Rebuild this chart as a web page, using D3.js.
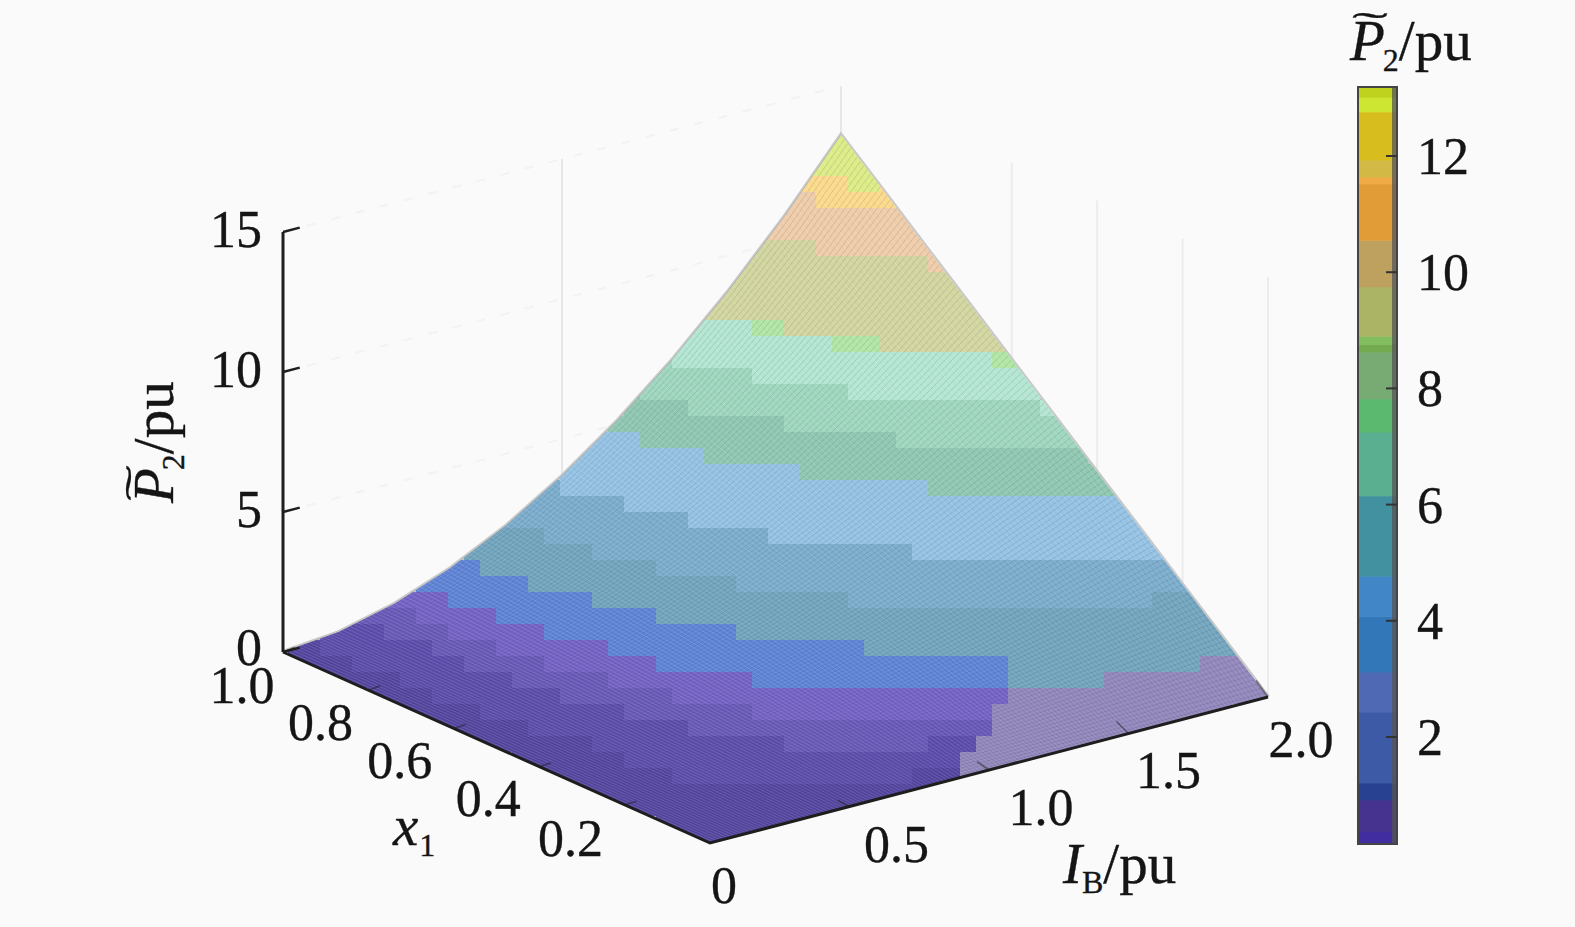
<!DOCTYPE html>
<html><head><meta charset="utf-8">
<script src="https://cdnjs.cloudflare.com/ajax/libs/d3/7.8.5/d3.min.js"></script>
<style>
html,body{margin:0;padding:0;background:#fafafa}
svg{display:block}
text{font-family:"Liberation Serif",serif;fill:#151515;stroke:#151515;stroke-width:.35}
</style></head><body>
<svg id="c" width="1575" height="927"></svg>
<script>
// ---- data ----
const ibValues = [0,0.2,0.4,0.6,0.8,1.0,1.2,1.4,1.6,1.8,2.0];
const x1Values = [0,0.1,0.2,0.3,0.4,0.5,0.6,0.7,0.8,0.9,1.0];
const p2Rows = [
 [0,0,0,0,0,0,0,0,0,0,0],
 [0,.02,.07,.14,.24,.37,.52,.69,.88,1.09,1.33],
 [0,.04,.14,.29,.49,.74,1.03,1.37,1.75,2.18,2.65],
 [0,.06,.20,.43,.73,1.10,1.55,2.06,2.63,3.27,3.98],
 [0,.07,.27,.57,.97,1.47,2.06,2.74,3.51,4.36,5.30],
 [0,.09,.34,.72,1.22,1.84,2.58,3.43,4.39,5.45,6.63],
 [0,.11,.41,.86,1.46,2.21,3.09,4.11,5.26,6.54,7.95],
 [0,.13,.47,1.00,1.70,2.58,3.61,4.80,6.14,7.63,9.28],
 [0,.15,.54,1.14,1.94,2.94,4.12,5.48,7.02,8.72,10.6],
 [0,.17,.61,1.29,2.19,3.31,4.64,6.17,7.89,9.81,11.93],
 [0,.19,.68,1.43,2.43,3.68,5.15,6.85,8.77,10.9,13.25]
];
const ibTicks = [0,0.5,1.0,1.5,2.0];
const ibTickLabels = ["0","0.5","1.0","1.5","2.0"];
const x1Ticks = [0.2,0.4,0.6,0.8,1.0];
const x1TickLabels = ["0.2","0.4","0.6","0.8","1.0"];
const zTicks = [0,5,10,15];
const cbTicks = [2,4,6,8,10,12];
// colour bar bands: lower bound of each band and its colour
const cbBounds = [0.16,0.37,0.92,1.21,2.43,3.12,4.08,4.77,6.15,7.25,7.82,8.63,8.76,8.9,9.75,10.55,11.52,11.64,11.93,12.76,13.01];
const cbColors = ["#412da0","#46328f","#284191","#3c5aa5","#5069b4","#3278b9","#4187c8","#4191a0","#5aaf91","#5ab96e","#78aa73","#73aa50","#82be5f","#aab464","#bea05f","#e19b37","#f0aa46","#d2b946","#d7be1e","#cde632","#bed21e"];
// surface bands (value lower bound, rendered colour of the meshed surface)
const surfBounds = [0.08,0.35,0.6,0.95,1.6,2.4,3.4,4.8,5.8,6.8,7.9,8.05,10.2,11.4,12.0];
const surfColors = ["#5c4aac","#6958b9","#7662c6","#6084d7","#73a5be","#7dadcd","#96c3e4","#91c8b2","#a0d7be","#b4e6d2","#b2e6a5","#d4d6a0","#f0cdaa","#fcda8c","#deec87"];
const baseSurfColor = "#5442a0";
// at the lower right of the surface the same bands show other tints
const rightTintPurple = "#9387bc";
const rightTintBlue = "#73a5be";

// ---- layout ----
const W=1575,H=927;
const svg=d3.select("#c");
svg.append("rect").attr("width",W).attr("height",H).attr("fill","#fafafa");
// oblique projection: each data axis contributes a screen offset
const ibSx=d3.scaleLinear([0,2],[0,558]), ibSy=d3.scaleLinear([0,2],[0,-146]);
const x1Sx=d3.scaleLinear([0,1],[0,-427]), x1Sy=d3.scaleLinear([0,1],[0,-191]);
const zSy=d3.scaleLinear([0,15],[0,-420]);
const O=[710,843];
const proj=(ib,x,z)=>[O[0]+ibSx(ib)+x1Sx(x), O[1]+ibSy(ib)+x1Sy(x)+zSy(z)];
const nI=ibValues.length,nX=x1Values.length;
const ibIdx=d3.scaleLinear().domain(d3.range(nI)).range(ibValues);
const xIdx=d3.scaleLinear().domain(d3.range(nX)).range(x1Values);
function pAt(ci,cx){
  const i0=Math.min(Math.floor(ci),nI-2),j0=Math.min(Math.floor(cx),nX-2),u=ci-i0,v=cx-j0;
  return (1-v)*((1-u)*p2Rows[j0][i0]+u*p2Rows[j0][i0+1])+v*((1-u)*p2Rows[j0+1][i0]+u*p2Rows[j0+1][i0+1]);
}
const pIdx=(ci,cx)=>proj(ibIdx(ci),xIdx(cx),pAt(ci,cx));
const clamp=(a,b,c)=>Math.max(b,Math.min(c,a));
const line=d3.line();

// ---- back wall grid ----
const wall=svg.append("g").attr("fill","none");
const zTop=15;
[1.0,2.0].forEach(ib=>{
  wall.append("path").attr("d",line([proj(ib,1,0),proj(ib,1,zTop)])).attr("stroke","#e6e6e6").attr("stroke-width",2);
});
[0,0.2,0.4,0.6].forEach(x=>{
  wall.append("path").attr("d",line([proj(2,x,0),proj(2,x,zTop)])).attr("stroke","#ececec").attr("stroke-width",2);
});
[5,10,15].forEach(z=>{
  wall.append("path").attr("d",line([proj(0,1,z),proj(2,1,z)])).attr("stroke","#f2f2f2").attr("stroke-width",2).attr("stroke-dasharray","9 16");
});

// ---- surface ----
const boundary=[];
d3.range(nI).forEach(i=>boundary.push(pIdx(i,0)));
d3.range(nX).forEach(j=>boundary.push(pIdx(nI-1,j)));
d3.range(nI-1,-1,-1).forEach(i=>boundary.push(pIdx(i,nX-1)));
d3.range(nX-1,-1,-1).forEach(j=>boundary.push(pIdx(0,j)));
// pale edge along the two upper sides
const upper=[];
d3.range(nI).forEach(i=>upper.push(pIdx(i,nX-1)));
d3.range(nX-1,-1,-1).forEach(j=>upper.push(pIdx(nI-1,j)));
svg.append("path").attr("d",line(upper)).attr("fill","none").attr("stroke","#c8c8c8").attr("stroke-width",4);
svg.append("clipPath").attr("id","sclip").append("path").attr("d",line(boundary)+"Z");
const surf=svg.append("g").attr("clip-path","url(#sclip)");

// band regions projected to the screen, then painted in coarse blocks like the picture
const contours=d3.contours().size([nI,nX]).thresholds(surfBounds)(p2Rows.flat());
const bandRings=contours.map(c=>c.coordinates.map(poly=>poly[0].map(p=>pIdx(clamp(p[0]-.5,0,nI-1),clamp(p[1]-.5,0,nX-1)))));
function bandAt(pt){
  for(let k=bandRings.length-1;k>=0;k--){
    if(bandRings[k].some(r=>d3.polygonContains(r,pt))) return k;
  }
  return -1;
}
const BL=16;
const xs=d3.range(Math.floor(d3.min(boundary,d=>d[0])/BL)*BL,d3.max(boundary,d=>d[0])+BL,BL);
const ys=d3.range(Math.floor(d3.min(boundary,d=>d[1])/BL)*BL,d3.max(boundary,d=>d[1])+BL,BL);
const blockFill=(sx,sy,k)=>{
  if(k<surfBounds.indexOf(0.95) && sx+0.6*(sy-690)>1008) return rightTintPurple;
  if(k===surfBounds.indexOf(0.95) && sx>=1008) return rightTintBlue;
  return k<0?baseSurfColor:surfColors[k];
};
xs.forEach(x=>ys.forEach(y=>{
  const offs=[[8,8],[8,2],[14,8],[2,8],[8,14],[2,2],[14,2],[2,14],[14,14]];
  let pt=null;
  for(const o of offs){const q=[x+o[0],y+o[1]]; if(d3.polygonContains(boundary,q)){pt=q;break;}}
  if(!pt) return;
  surf.append("rect").attr("x",x).attr("y",y).attr("width",BL+.5).attr("height",BL+.5)
    .attr("fill",blockFill(pt[0],pt[1],bandAt(pt)));
}));
// mesh of the surface
const meshF=d3.range(0,1.0001,1/130), meshS=d3.range(0,nI-0.999,0.2).concat([nI-1]);
const mesh=svg.append("g").attr("fill","none");
meshF.forEach(f=>{
  const cx=f*(nX-1);
  mesh.append("path").attr("d",line(meshS.map(ci=>pIdx(ci,cx))))
    .attr("stroke","#2c4a60").attr("stroke-opacity",0.2).attr("stroke-width",0.9);
});
const meshF2=d3.range(0,1.0001,1/150), meshS2=d3.range(0,nX-0.999,0.2).concat([nX-1]);
meshF2.forEach(f=>{
  const ci=f*(nI-1);
  mesh.append("path").attr("d",line(meshS2.map(cx=>pIdx(ci,cx))))
    .attr("stroke","#ffffff").attr("stroke-opacity",0.16).attr("stroke-width",0.9);
});

// ---- axes ----
const ax=svg.append("g").attr("fill","none").attr("stroke","#1e1e1e");
ax.append("path").attr("d",line([proj(0,1,0),proj(0,1,15)])).attr("stroke-width",3);
ax.append("path").attr("d",line([proj(0,1,0),proj(0,0,0),proj(2,0,0)])).attr("stroke-width",3);
const tickIb=0.06,tickX=0.04;
zTicks.forEach(z=>{
  ax.append("path").attr("d",line([proj(0,1,z),proj(tickIb,1,z)])).attr("stroke-width",2.4);
});
x1Ticks.forEach(x=>{
  ax.append("path").attr("d",line([proj(0,x,0),proj(tickIb*0.7,x,pAt(0.3,x*10))])).attr("stroke-width",1.6).attr("stroke-opacity",.5);
});
ibTicks.forEach(ib=>{
  ax.append("path").attr("d",line([proj(ib,0,0),proj(ib,tickX*0.7,pAt(ib*5,0.3))])).attr("stroke-width",1.6).attr("stroke-opacity",.5);
});

// ---- labels ----
const FS=52, FSU=57;
const T=svg.append("g").attr("font-size",FS);
zTicks.forEach(z=>{
  const p=proj(0,1,z);
  T.append("text").attr("x",p[0]-21).attr("y",p[1]+(z==0?13:15)).attr("text-anchor","end").text(z);
});
const x1LabelOffset=[[-54,51],[-51,49],[-54,50],[-48,50],[-41,51]];
x1Ticks.forEach((x,i)=>{
  const p=proj(0,x,0);
  T.append("text").attr("x",p[0]+x1LabelOffset[i][0]).attr("y",p[1]+x1LabelOffset[i][1]).attr("text-anchor","middle").text(x1TickLabels[i]);
});
const ibLabelOffset=[[14,60],[47,55],[52,55],[40,54],[33,60]];
ibTicks.forEach((ib,i)=>{
  const p=proj(ib,0,0);
  T.append("text").attr("x",p[0]+ibLabelOffset[i][0]).attr("y",p[1]+ibLabelOffset[i][1]).attr("text-anchor","middle").text(ibTickLabels[i]);
});
const xl=T.append("text").attr("x",393).attr("y",845);
xl.append("tspan").attr("font-style","italic").attr("font-size",FSU).text("x");
xl.append("tspan").attr("font-size",32).attr("dy",11).attr("dx",1).text("1");
const il=T.append("text").attr("x",1063).attr("y",883);
il.append("tspan").attr("font-style","italic").attr("font-size",FSU).text("I");
il.append("tspan").attr("font-size",32).attr("dy",10).text("B");
il.append("tspan").attr("dy",-10).attr("font-size",FSU).text("/pu");
function p2Label(g){
  const t=g.append("text").attr("x",0).attr("y",0);
  t.append("tspan").attr("font-style","italic").attr("font-size",FSU).text("P");
  t.append("tspan").attr("font-size",32).attr("dy",11).attr("dx",-2).text("2");
  t.append("tspan").attr("dy",-11).attr("font-size",FSU).text("/pu");
  g.append("text").attr("font-size",40).attr("transform","translate(2,-20) scale(2.7,1)").style("stroke-width",.2).text("\u02DC");
}
p2Label(svg.append("g").attr("transform","translate(173,503) rotate(-90)"));
p2Label(svg.append("g").attr("transform","translate(1350,60)"));

// ---- colour bar ----
const cbY=d3.scaleLinear([12,2],[156,737]);
const cbX0=1358,cbX1=1397,cbTop=87,cbBot=844;
const cb=svg.append("g");
cbBounds.forEach((b,i)=>{
  const hi=i<cbBounds.length-1?cbBounds[i+1]:cbY.invert(cbTop);
  cb.append("rect").attr("x",cbX0).attr("width",cbX1-cbX0).attr("y",cbY(hi)).attr("height",cbY(b)-cbY(hi)+0.5).attr("fill",cbColors[i]);
});
cb.append("rect").attr("x",cbX1-5).attr("y",cbTop).attr("width",5).attr("height",cbBot-cbTop).attr("fill","#555").attr("fill-opacity",.75);
cb.append("rect").attr("x",cbX0).attr("y",cbTop).attr("width",cbX1-cbX0).attr("height",cbBot-cbTop).attr("fill","none").attr("stroke","#444").attr("stroke-width",2);
cbTicks.forEach(v=>{
  cb.append("line").attr("x1",cbX1-11).attr("x2",cbX1).attr("y1",cbY(v)).attr("y2",cbY(v)).attr("stroke","#333").attr("stroke-width",2);
  svg.append("text").attr("font-size",FS).attr("x",1417).attr("y",cbY(v)+18).text(v);
});
</script>
</body></html>
